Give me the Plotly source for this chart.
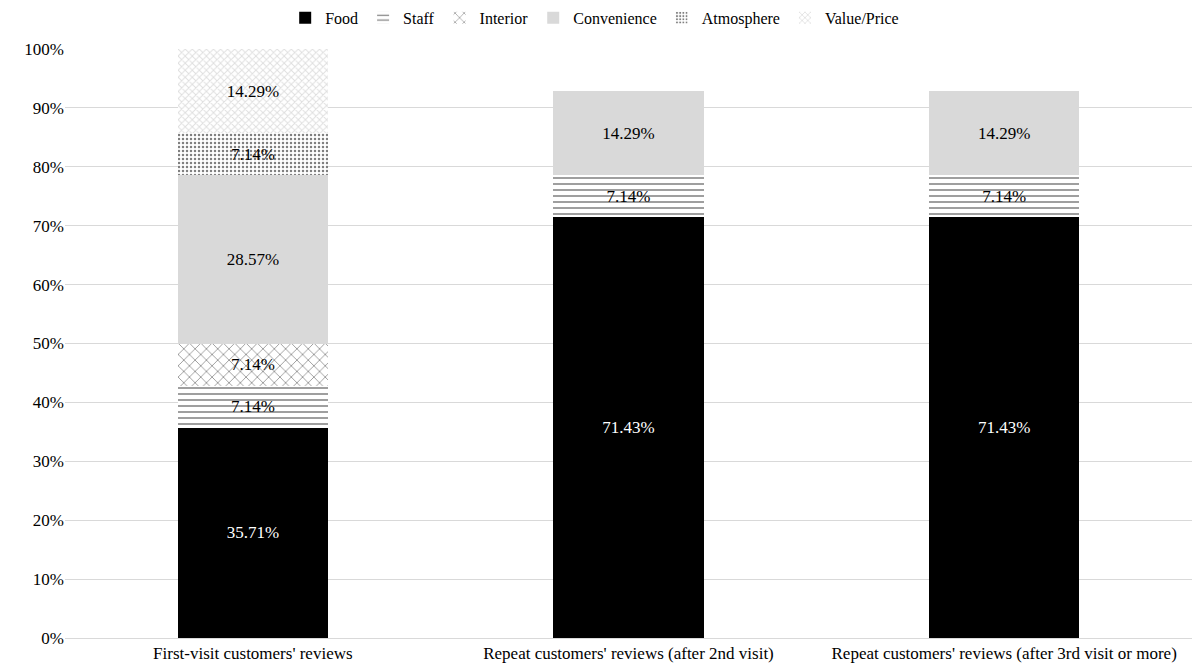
import plotly.graph_objects as go

categories = ["First-visit customers' reviews",
              "Repeat customers' reviews (after 2nd visit)",
              "Repeat customers' reviews (after 3rd visit or more)"]
food = [35.71, 71.43, 71.43]
staff = [7.14, 7.14, 7.14]
interior = [7.14, None, None]
convenience = [28.57, 14.29, 14.29]
atmosphere = [7.14, None, None]
value_price = [14.29, None, None]

series = [
    ("Food", food, dict(color="#000000"), "white"),
    ("Staff", staff, dict(color="white", pattern=dict(shape="-", fgcolor="#000000", bgcolor="white", size=6, solidity=0.25)), "black"),
    ("Interior", interior, dict(color="white", pattern=dict(shape="x", fgcolor="#222222", bgcolor="white", size=8, solidity=0.2)), "black"),
    ("Convenience", convenience, dict(color="#d9d9d9"), "black"),
    ("Atmosphere", atmosphere, dict(color="white", pattern=dict(shape=".", fgcolor="#000000", bgcolor="white", size=4, solidity=0.3)), "black"),
    ("Value/Price", value_price, dict(color="white", pattern=dict(shape="x", fgcolor="#bdbdbd", bgcolor="white", size=5, solidity=0.35)), "black"),
]

fig = go.Figure()
for name, vals, marker, tc in series:
    fig.add_trace(go.Bar(
        x=categories, y=vals, name=name,
        marker=dict(**marker, line=dict(width=0)),
        texttemplate="%{y:.2f}%", textposition="inside", insidetextanchor="middle",
        textangle=0,
        textfont=dict(family="Liberation Serif", size=17, color=tc),
        width=0.4,
    ))

fig.update_layout(
    barmode="stack",
    width=1192, height=670,
    margin=dict(l=65, r=0, t=49, b=32, autoexpand=False),
    plot_bgcolor="white", paper_bgcolor="white",
    font=dict(family="Liberation Serif", size=17, color="#000000"),
    legend=dict(orientation="h", x=0.47, xanchor="center", y=1.053, yanchor="middle",
                font=dict(family="Liberation Serif", size=16), itemwidth=30,
                tracegroupgap=0, traceorder="normal"),
    uniformtext=dict(mode=False),
)
fig.update_yaxes(range=[0, 100], dtick=10, ticksuffix="%", showgrid=True,
                 gridcolor="#d9d9d9", gridwidth=1, zeroline=False,
                 tickfont=dict(family="Liberation Serif", size=17), ticks="", ticklen=0)
fig.update_xaxes(range=[-0.5, 2.5], showline=True, linecolor="#d9d9d9",
                 tickfont=dict(family="Liberation Serif", size=17))

fig.write_html("out.html")
